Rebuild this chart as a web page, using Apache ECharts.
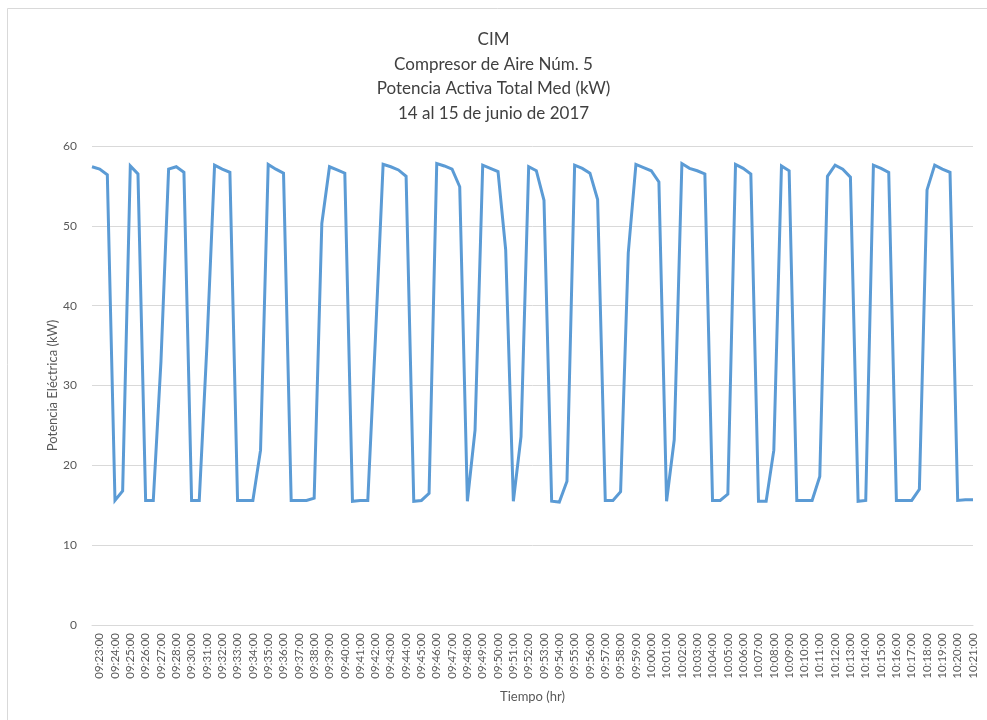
<!DOCTYPE html>
<html>
<head>
<meta charset="utf-8">
<script src="https://cdn.jsdelivr.net/npm/echarts@6/dist/echarts.min.js"></script>
<style>html,body{margin:0;padding:0;background:#fff}#c{width:987px;height:720px}</style>
</head>
<body>
<div id="c"></div>
<script>
const titleLines = ["CIM", "Compresor de Aire Núm. 5", "Potencia Activa Total Med (kW)", "14 al 15 de junio de 2017"];
const yAxisName = "Potencia Eléctrica (kW)";
const xAxisName = "Tiempo (hr)";
const yTicks = [0, 10, 20, 30, 40, 50, 60];
// labels shown on the axis (every second sample)
const tickLabels = [
 "09:23:00","09:24:00","09:25:00","09:26:00","09:27:00","09:28:00","09:30:00","09:31:00","09:32:00","09:33:00",
 "09:34:00","09:35:00","09:36:00","09:37:00","09:38:00","09:39:00","09:40:00","09:41:00","09:42:00","09:43:00",
 "09:44:00","09:45:00","09:46:00","09:47:00","09:48:00","09:49:00","09:50:00","09:51:00","09:52:00","09:53:00",
 "09:54:00","09:55:00","09:56:00","09:57:00","09:58:00","09:59:00","10:00:00","10:01:00","10:02:00","10:03:00",
 "10:04:00","10:05:00","10:06:00","10:07:00","10:08:00","10:09:00","10:10:00","10:11:00","10:12:00","10:13:00",
 "10:14:00","10:15:00","10:16:00","10:17:00","10:18:00","10:19:00","10:20:00","10:21:00"
];
// power samples (kW), two samples per labelled tick
const potencia = [
 57.4,57.1,56.4,15.6,16.8,57.5,56.5,15.6,15.6,33.0,
 57.1,57.4,56.7,15.6,15.6,35.0,57.6,57.1,56.7,15.6,
 15.6,15.6,21.9,57.7,57.1,56.6,15.6,15.6,15.6,15.9,
 50.3,57.4,57.0,56.6,15.5,15.6,15.6,36.0,57.7,57.4,
 57.0,56.2,15.5,15.6,16.5,57.8,57.5,57.1,54.9,15.5,
 24.4,57.6,57.2,56.8,47.0,15.5,23.6,57.4,56.9,53.2,
 15.5,15.4,18.0,57.6,57.2,56.6,53.3,15.6,15.6,16.7,
 46.6,57.7,57.3,56.9,55.5,15.5,23.2,57.8,57.2,56.9,
 56.5,15.6,15.6,16.4,57.7,57.2,56.5,15.5,15.5,21.9,
 57.5,56.9,15.6,15.6,15.6,18.6,56.2,57.6,57.1,56.1,
 15.5,15.6,57.6,57.2,56.7,15.6,15.6,15.6,17.0,54.5,
 57.6,57.1,56.7,15.6,15.7,15.7
];
const categories = [];
tickLabels.forEach(function (t) { categories.push("~" + t); categories.push(t); });

const chart = echarts.init(document.getElementById('c'));
const font = 'Lato, "Open Sans", sans-serif';
chart.setOption({
  backgroundColor: '#ffffff',
  animation: false,
  graphic: [{
    type: 'rect', shape: { x: 7.5, y: 8.5, width: 1000, height: 800 },
    style: { fill: 'none', stroke: '#d9d9d9', lineWidth: 1 }, silent: true
  }],
  title: {
    text: titleLines.join('\n'),
    left: 'center', top: 22,
    textStyle: { fontFamily: font, fontSize: 17, fontWeight: 'normal', color: '#404040', lineHeight: 24.7 }
  },
  grid: { left: 92, right: 14, top: 146, bottom: 95, outerBoundsMode: 'none' },
  xAxis: {
    type: 'category',
    data: categories,
    boundaryGap: false,
    name: xAxisName,
    nameLocation: 'middle',
    nameGap: 65,
    nameMoveOverlap: false,
    nameTextStyle: { fontFamily: font, fontSize: 13, color: '#595959' },
    axisLine: { show: true, lineStyle: { color: '#d9d9d9', width: 1 } },
    axisTick: { show: false },
    axisLabel: {
      interval: function (idx) { return idx % 2 === 1; },
      rotate: 90, margin: 8,
      fontFamily: font, fontSize: 11.5, color: '#595959'
    },
    splitLine: { show: false }
  },
  yAxis: {
    type: 'value',
    min: yTicks[0], max: yTicks[yTicks.length - 1], interval: 10,
    name: yAxisName,
    nameLocation: 'middle',
    nameGap: 33,
    nameMoveOverlap: false,
    nameRotate: 90,
    nameTextStyle: { fontFamily: font, fontSize: 13, color: '#595959' },
    axisLine: { show: false },
    axisTick: { show: false },
    axisLabel: { fontFamily: font, fontSize: 12, color: '#595959', margin: 15 },
    splitLine: { show: true, lineStyle: { color: '#d9d9d9', width: 1 } }
  },
  series: [{
    type: 'line',
    data: potencia,
    showSymbol: false,
    symbol: 'none',
    lineStyle: { color: '#5b9bd5', width: 3, join: 'miter' },
    itemStyle: { color: '#5b9bd5' }
  }]
});
</script>
</body>
</html>
